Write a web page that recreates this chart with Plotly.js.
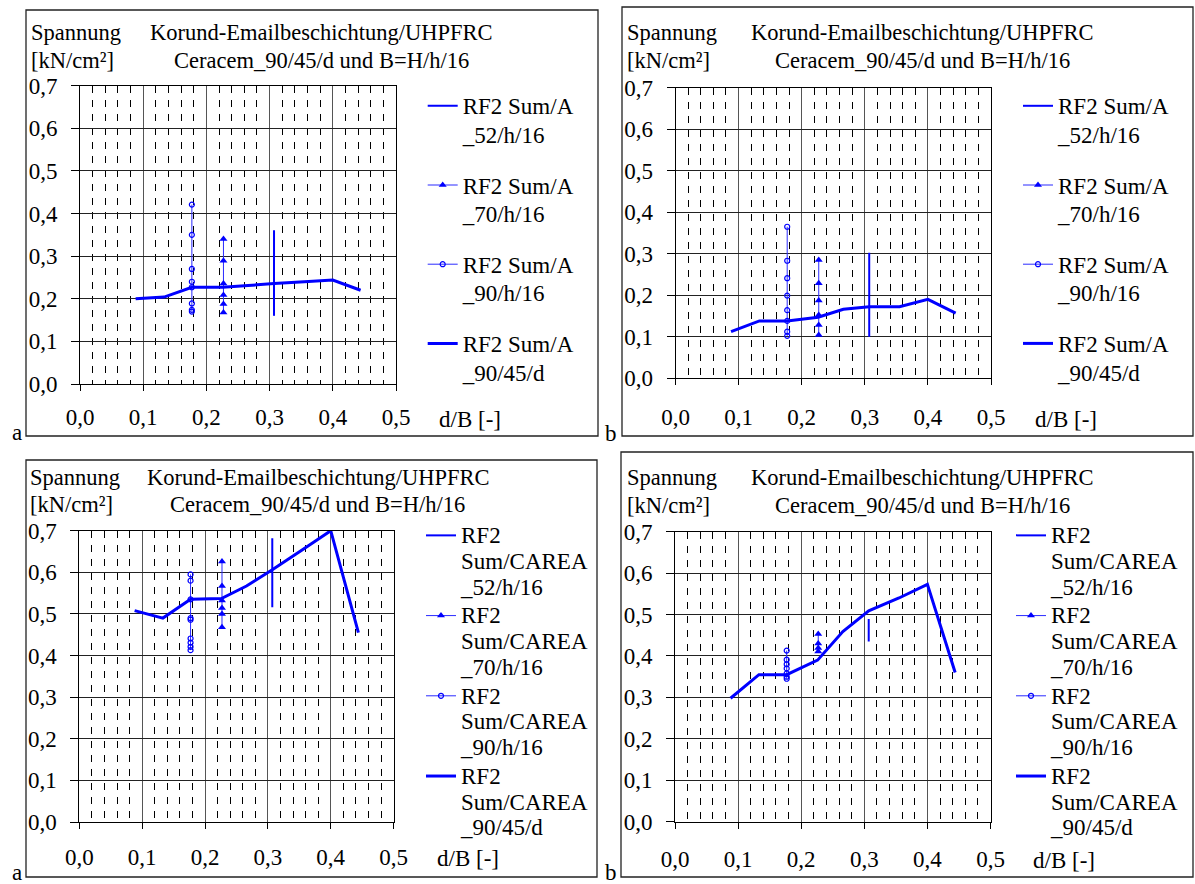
<!DOCTYPE html>
<html><head><meta charset="utf-8">
<script src="https://cdn.plot.ly/plotly-3.0.1.min.js"></script>
<style>html,body{margin:0;padding:0;background:#fff}#chart{width:1195px;height:884px}</style>
</head><body><div id="chart"></div>
<script>
// ---------- data ----------
const xLine = [0.088, 0.133, 0.177, 0.226, 0.266, 0.307, 0.355, 0.4, 0.444];
const x52 = 0.307, x70 = 0.227, x90 = 0.177;

// panel a (top): RF2 Sum/A
const a1_52 = [0.361, 0.16];
const a1_70 = [0.34, 0.289, 0.236, 0.209, 0.188, 0.168];
const a1_90 = [0.421, 0.35, 0.27, 0.24, 0.227, 0.189, 0.174, 0.17];
const a1_45 = [0.200, 0.204, 0.227, 0.227, 0.231, 0.236, 0.240, 0.244, 0.220];
// panel b (top)
const b1_52 = [0.302, 0.10];
const b1_70 = [0.285, 0.229, 0.187, 0.152, 0.128, 0.104];
const b1_90 = [0.365, 0.283, 0.241, 0.199, 0.164, 0.138, 0.112, 0.102];
const b1_45 = [0.112, 0.138, 0.138, 0.147, 0.166, 0.172, 0.172, 0.190, 0.157];
// panel a (bottom): RF2 Sum/CAREA
const a2_52 = [0.682, 0.516];
const a2_70 = [0.626, 0.567, 0.532, 0.514, 0.50, 0.468];
const a2_90 = [0.595, 0.58, 0.535, 0.49, 0.486, 0.441, 0.431, 0.421, 0.413];
const a2_45 = [0.508, 0.490, 0.535, 0.537, 0.567, 0.606, 0.654, 0.700, 0.455];
// panel b (bottom)
const b2_52 = [0.489, 0.435];
const b2_70 = [0.453, 0.43, 0.419, 0.411];
const b2_90 = [0.413, 0.391, 0.38, 0.37, 0.358, 0.35, 0.345];
const b2_45 = [0.298, 0.355, 0.355, 0.390, 0.459, 0.509, 0.540, 0.573, 0.360];

const namesTop = ['RF2 Sum/A<br>_52/h/16', 'RF2 Sum/A<br>_70/h/16', 'RF2 Sum/A<br>_90/h/16', 'RF2 Sum/A<br>_90/45/d'];
const namesBot = ['RF2<br>Sum/CAREA<br>_52/h/16', 'RF2<br>Sum/CAREA<br>_70/h/16', 'RF2<br>Sum/CAREA<br>_90/h/16', 'RF2<br>Sum/CAREA<br>_90/45/d'];
const yTicks = [0, 0.1, 0.2, 0.3, 0.4, 0.5, 0.6, 0.7];
const xTicks = [0, 0.1, 0.2, 0.3, 0.4, 0.5];
const yLabel = ['Spannung', '[kN/cm²]'];
const titleLines = ['Korund-Emailbeschichtung/UHPFRC', 'Ceracem_90/45/d und B=H/h/16'];
const xLabel = 'd/B [-]';

// ---------- layout helpers ----------
const W = 1195, H = 884;
const px = v => v / W, py = v => 1 - v / H;
const FONT = 'Liberation Serif, DejaVu Serif, serif';
const BLUE = '#0000ff';

function span(t, s) { return t.split('<br>').map(l => '<span style="font-size:' + s + 'px">' + l + '</span>').join('<br>'); }

const panels = [
  {id: '', lg: 'legend', data: [a1_52, a1_70, a1_90, a1_45], names: namesTop, letter: 'a',
   frame: [26, 10, 598, 436], plot: [80, 396, 85.7, 384], yl: [30.5, 40, 68], tcx: 321, tb: [40, 68],
   db: [439, 427], xso: 6, leg: [422.7, 85], lf: 22, ls: 23, gap: 19, let: [11.7, 440]},
  {id: '2', lg: 'legend2', data: [b1_52, b1_70, b1_90, b1_45], names: namesTop, letter: 'b',
   frame: [622, 7, 1193, 436], plot: [675.5, 991, 87.7, 378.2], yl: [627.3, 40, 68], tcx: 922, tb: [40, 68],
   db: [1034.5, 427], xso: 12, leg: [1018, 85], lf: 22, ls: 23, gap: 19, let: [605, 440.7]},
  {id: '3', lg: 'legend3', data: [a2_52, a2_70, a2_90, a2_45], names: namesBot, letter: 'a',
   frame: [26, 460, 597, 877], plot: [79.3, 393.6, 530.7, 822], yl: [30, 485, 512], tcx: 317.5, tb: [485, 512],
   db: [437, 866], xso: 8, leg: [421, 516], lf: 19.8, ls: 23, gap: 0, let: [11.7, 880]},
  {id: '4', lg: 'legend4', data: [b2_52, b2_70, b2_90, b2_45], names: namesBot, letter: 'b',
   frame: [621, 452, 1193, 877], plot: [675, 990.5, 531.7, 821.7], yl: [626.7, 485, 513], tcx: 922, tb: [485, 513],
   db: [1032.7, 868], xso: 11, leg: [1011, 516], lf: 19.8, ls: 23, gap: 0, let: [605, 880]}
];

const traces = [];
const layout = {
  width: W, height: H, autosize: false, margin: {l: 0, r: 0, t: 0, b: 0},
  paper_bgcolor: '#fff', plot_bgcolor: '#fff', separators: ',.', showlegend: true,
  annotations: [], shapes: []
};

function txt(x, base, t, anchor, size) {
  return {xref: 'paper', yref: 'paper', x: px(x + (anchor === 'left' ? -2 : 0)), y: py(base - 7.6), text: t,
    showarrow: false, xanchor: anchor, yanchor: 'middle', font: {family: FONT, size: size, color: '#000'}};
}

panels.forEach(p => {
  const xa = 'x' + p.id, ya = 'y' + p.id;
  const [d52, d70, d90, d45] = p.data;
  const base = {xaxis: xa, yaxis: ya, type: 'scatter', legend: p.lg, cliponaxis: false, hoverinfo: 'skip'};
  traces.push(Object.assign({}, base, {x: d52.map(() => x52), y: d52, mode: 'lines', name: span(p.names[0], p.ls), legendgroup: 'g1' + p.id,
    line: {color: BLUE, width: 2}}));
  traces.push(Object.assign({}, base, {x: d70.map(() => x70), y: d70, mode: 'lines+markers', name: span(p.names[1], p.ls), legendgroup: 'g2' + p.id,
    line: {color: '#2a2aff', width: 1}, marker: {symbol: 'triangle-up', size: 7, color: BLUE}}));
  traces.push(Object.assign({}, base, {x: d90.map(() => x90), y: d90, mode: 'lines+markers', name: span(p.names[2], p.ls), legendgroup: 'g3' + p.id,
    line: {color: '#2a2aff', width: 1}, marker: {symbol: 'circle-open', size: 5, color: BLUE, line: {width: 1.2, color: BLUE}}}));
  traces.push(Object.assign({}, base, {x: xLine, y: d45, mode: 'lines', name: span(p.names[3], p.ls), legendgroup: 'g4' + p.id,
    line: {color: BLUE, width: 3}}));

  const [x0, x1, yt, yb] = p.plot;
  layout['xaxis' + p.id] = {
    domain: [px(x0), px(x1)], anchor: ya, range: [0, 0.5], tickvals: xTicks, ticks: 'outside', ticklen: 6, tickwidth: 1, tickcolor: '#000',
    showgrid: true, gridcolor: '#555', gridwidth: 1,
    minor: {dtick: 0.02, tick0: 0, showgrid: true, gridcolor: '#000', gridwidth: 1, griddash: '7px,7px'},
    showline: true, mirror: true, linecolor: '#000', linewidth: 1, zeroline: false, tickformat: '.1f',
    tickfont: {family: FONT, size: 23, color: '#000'}, ticklabelstandoff: p.xso, fixedrange: true
  };
  layout['yaxis' + p.id] = {
    domain: [py(yb), py(yt)], anchor: xa, range: [0, 0.7], tickvals: yTicks, ticks: 'outside', ticklen: 8, tickwidth: 1, tickcolor: '#000',
    showgrid: true, gridcolor: '#222', gridwidth: 1, showline: true, mirror: true, linecolor: '#000', linewidth: 1, zeroline: false,
    tickformat: '.1f', tickfont: {family: FONT, size: 23, color: '#000'}, ticklabelstandoff: 9, fixedrange: true
  };
  layout[p.lg] = {x: px(p.leg[0]), y: py(p.leg[1]), xanchor: 'left', yanchor: 'top', bgcolor: 'rgba(0,0,0,0)', borderwidth: 0,
    font: {family: FONT, size: p.lf, color: '#000'}, traceorder: 'grouped', tracegroupgap: p.gap, valign: 'top', itemwidth: 30};

  const f = p.frame;
  layout.shapes.push({type: 'rect', xref: 'paper', yref: 'paper', x0: px(f[0]), x1: px(f[2]), y0: py(f[1]), y1: py(f[3]),
    line: {color: '#222', width: 1.3}, fillcolor: 'rgba(0,0,0,0)'});
  layout.annotations.push(txt(p.yl[0], p.yl[1], yLabel[0], 'left', 22.5));
  layout.annotations.push(txt(p.yl[0], p.yl[2], yLabel[1], 'left', 22.5));
  layout.annotations.push(txt(p.tcx, p.tb[0], titleLines[0], 'center', 22.5));
  layout.annotations.push(txt(p.tcx, p.tb[1], titleLines[1], 'center', 22.5));
  layout.annotations.push(txt(p.db[0], p.db[1], xLabel, 'left', 23));
  layout.annotations.push(txt(p.let[0], p.let[1], p.letter, 'left', 23));
});

Plotly.newPlot('chart', traces, layout, {staticPlot: true, displayModeBar: false});
</script>
</body></html>
